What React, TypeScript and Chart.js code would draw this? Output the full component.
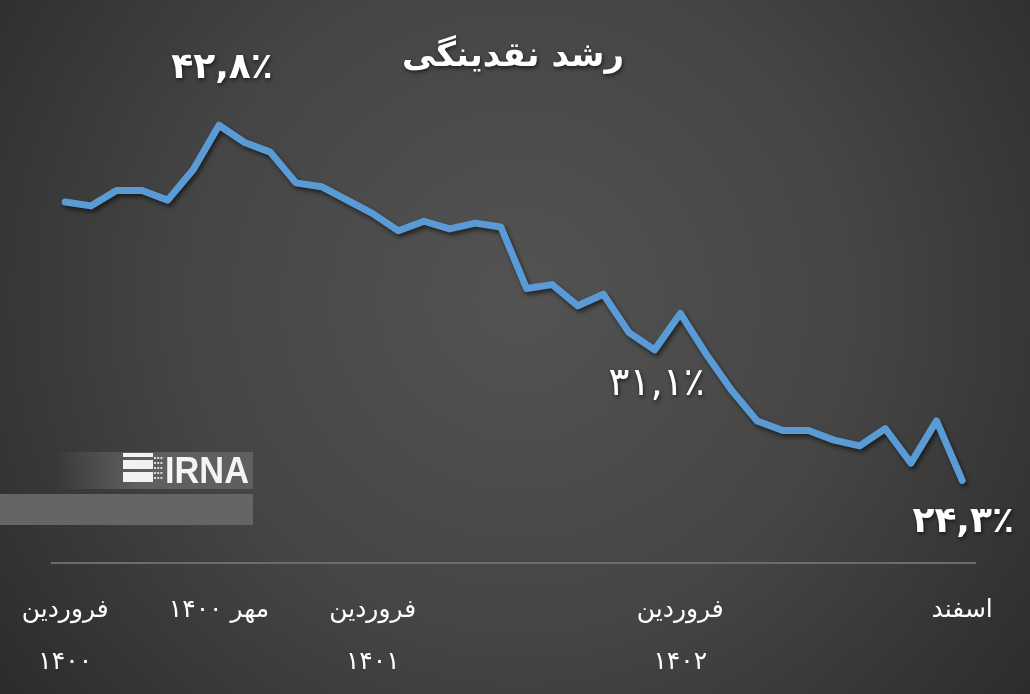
import React, { useEffect, useRef } from "react";
import { Chart, registerables } from "chart.js";

Chart.register(...registerables);

// ---- data ----
const monthNames = ["فروردین", "اردیبهشت", "خرداد", "تیر", "مرداد", "شهریور", "مهر", "آبان", "آذر", "دی", "بهمن", "اسفند"];
const years = ["۱۴۰۰", "۱۴۰۱", "۱۴۰۲"];
const categories: string[] = years.flatMap((y) => monthNames.map((m) => `${m} ${y}`));

const liquidityGrowth = [
  38.8, 38.6, 39.4, 39.4, 38.9, 40.5, 42.8, 41.9, 41.4, 39.8, 39.6, 38.9,
  38.2, 37.3, 37.8, 37.4, 37.7, 37.5, 34.3, 34.5, 33.4, 34.0, 32.0, 31.1,
  33.0, 30.9, 29.0, 27.4, 26.9, 26.9, 26.4, 26.1, 27.0, 25.2, 27.4, 24.3,
];

const tickIndices = [0, 6, 12, 24, 35];
const tickTexts: string[][] = [
  ["فروردین", "۱۴۰۰"],
  ["مهر ۱۴۰۰"],
  ["فروردین", "۱۴۰۱"],
  ["فروردین", "۱۴۰۲"],
  ["اسفند"],
];

const calloutIndices = [6, 23, 35];
const calloutTexts = ["۴۲,۸٪", "۳۱,۱٪", "۲۴,۳٪"];

const title = "رشد نقدینگی";

const FONT = '"DejaVu Sans", sans-serif';

const backgroundPlugin = {
  id: "bg",
  beforeDraw(chart: any) {
    const { ctx, width, height } = chart;
    ctx.save();
    const g = ctx.createRadialGradient(520, 300, 20, 520, 300, 720);
    g.addColorStop(0, "#525252");
    g.addColorStop(0.45, "#454545");
    g.addColorStop(1, "#262626");
    ctx.fillStyle = g;
    ctx.fillRect(0, 0, width, height);

    // IRNA logo bands
    const lg = ctx.createLinearGradient(55, 0, 140, 0);
    lg.addColorStop(0, "rgba(95,95,95,0)");
    lg.addColorStop(1, "rgba(95,95,95,1)");
    ctx.fillStyle = lg;
    ctx.fillRect(55, 452, 198, 37);
    ctx.fillStyle = "#656565";
    ctx.fillRect(0, 494, 253, 31);

    // icon
    ctx.fillStyle = "#f2f2f2";
    ctx.fillRect(123, 453, 30, 4);
    ctx.fillRect(123, 460, 30, 9);
    ctx.fillRect(123, 472, 30, 10);
    ctx.fillStyle = "#d8d8d8";
    for (let r = 0; r < 5; r++) {
      for (let c = 0; c < 3; c++) {
        ctx.fillRect(154 + c * 3.2, 457 + r * 5, 2, 2);
      }
    }
    ctx.fillStyle = "#f4f4f4";
    ctx.font = 'bold 36px "Liberation Sans Narrow", "Liberation Sans", sans-serif';
    ctx.textAlign = "left";
    ctx.textBaseline = "alphabetic";
    const w = ctx.measureText("IRNA").width;
    ctx.save();
    ctx.translate(165, 483);
    ctx.scale(84 / w, 1);
    ctx.fillText("IRNA", 0, 0);
    ctx.restore();
    ctx.restore();
  },
};

const shadowPlugin = {
  id: "lineShadow",
  beforeDatasetsDraw(chart: any) {
    const ctx = chart.ctx;
    ctx.save();
    ctx.shadowColor = "rgba(0,0,0,0.55)";
    ctx.shadowBlur = 4;
    ctx.shadowOffsetX = 2;
    ctx.shadowOffsetY = 3;
  },
  afterDatasetsDraw(chart: any) {
    chart.ctx.restore();
  },
};

const textPlugin = {
  id: "texts",
  afterDraw(chart: any) {
    const { ctx } = chart;
    const xs = chart.scales.x;
    const ys = chart.scales.y;
    ctx.save();
    ctx.direction = "ltr";
    ctx.textAlign = "center";
    ctx.textBaseline = "middle";
    ctx.fillStyle = "#ffffff";
    ctx.shadowColor = "rgba(0,0,0,0.6)";
    ctx.shadowBlur = 4;
    ctx.shadowOffsetX = 1;
    ctx.shadowOffsetY = 2;
    ctx.font = `bold 34px ${FONT}`;
    ctx.fillText(title, 513, 57);

    const offsets = [
      { dx: 3, dy: -57, weight: "bold", size: 36 },
      { dx: 2, dy: 35, weight: "normal", size: 39 },
      { dx: 1, dy: 42, weight: "bold", size: 36 },
    ];
    calloutIndices.forEach((idx, k) => {
      const px = xs.getPixelForValue(idx);
      const py = ys.getPixelForValue(liquidityGrowth[idx]);
      const o = offsets[k];
      ctx.font = `${o.weight} ${o.size}px ${FONT}`;
      ctx.fillText(calloutTexts[k], px + o.dx, py + o.dy);
    });
    ctx.restore();
  },
};

export default function App() {
  const ref = useRef<HTMLCanvasElement>(null);
  useEffect(() => {
    if (!ref.current) return;
    const chart = new Chart(ref.current, {
      type: "line",
      data: {
        labels: categories,
        datasets: [
          {
            data: liquidityGrowth,
            borderColor: "#5b9bd5",
            borderWidth: 7,
            borderCapStyle: "round",
            borderJoinStyle: "round",
            pointRadius: 0,
            tension: 0,
            fill: false,
          },
        ],
      },
      options: {
        responsive: false,
        animation: false,
        layout: { padding: { top: 83, left: 52, right: 55, bottom: 0 } },
        plugins: { legend: { display: false }, tooltip: { enabled: false }, title: { display: false } },
        scales: {
          x: {
            type: "category",
            offset: true,
            grid: { display: false, drawTicks: false },
            border: { display: true, color: "#6c6c6c", width: 2 },
            afterFit: (scale: any) => {
              scale.height = 131;
            },
            ticks: {
              autoSkip: false,
              maxRotation: 0,
              minRotation: 0,
              padding: 21,
              color: "#ffffff",
              font: { family: "DejaVu Sans", size: 25, lineHeight: 2.1 },
              callback: (_v: any, i: number) => {
                const k = tickIndices.indexOf(i);
                return k >= 0 ? tickTexts[k] : "";
              },
            },
          },
          y: { display: false, min: 20, max: 45 },
        },
      },
      plugins: [backgroundPlugin, shadowPlugin, textPlugin],
    });
    return () => chart.destroy();
  }, []);
  return (
    <div style={{ position: "absolute", left: 0, top: 0, width: 1030, height: 694 }}>
      <canvas ref={ref} width={1030} height={694} style={{ display: "block" }} />
    </div>
  );
}
